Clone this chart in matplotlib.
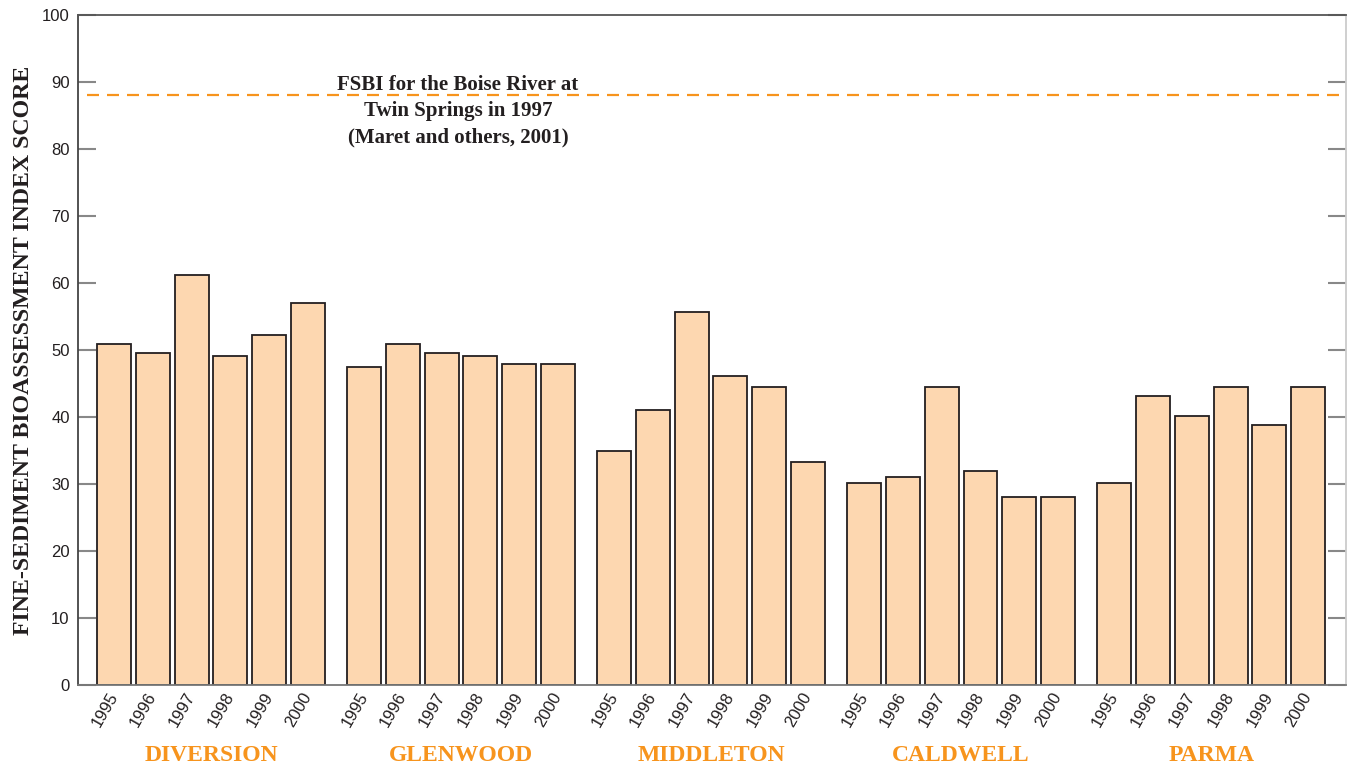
import matplotlib.pyplot as plt
import numpy as np

# datos
sitios = ['DIVERSION', 'GLENWOOD', 'MIDDLETON', 'CALDWELL', 'PARMA']
anios = ['1995', '1996', '1997', '1998', '1999', '2000']
diversion = [50.9, 49.6, 61.2, 49.1, 52.2, 57.0]
glenwood = [47.5, 50.9, 49.6, 49.1, 47.9, 47.9]
middleton = [34.9, 41.0, 55.7, 46.1, 44.5, 33.3]
caldwell = [30.1, 31.0, 44.5, 31.9, 28.1, 28.1]
parma = [30.1, 43.1, 40.1, 44.5, 38.8, 44.5]
fsbi_twin_springs = 88.0
nota = 'FSBI for the Boise River at\nTwin Springs in 1997\n(Maret and others, 2001)'

valores = [diversion, glenwood, middleton, caldwell, parma]

naranja = '#F7941D'
relleno = '#FDD7B0'
tinta = '#231F20'
num_font = ['Liberation Sans Narrow', 'Liberation Sans', 'DejaVu Sans']

fig = plt.figure(figsize=(13.47, 7.67), dpi=100)
ax = fig.add_axes([0.0579, 0.1069, 0.9414, 0.8735])

paso_grupo = 6.45
pos = []
etiquetas = []
for i, serie in enumerate(valores):
    x = i * paso_grupo + np.arange(len(anios))
    ax.bar(x, serie, width=0.876, color=relleno, edgecolor=tinta, linewidth=1.3)
    pos.extend(x)
    etiquetas.extend(anios)
    ax.text(x.mean(), -0.1045, sitios[i], transform=ax.get_xaxis_transform(),
            ha='center', va='center', color=naranja, fontsize=17,
            fontweight='bold', family='Liberation Serif')

ax.axhline(fsbi_twin_springs, xmin=0.007, xmax=0.995, color=naranja,
           linestyle=(0, (5.4, 3.6)), linewidth=1.6)
ax.text(0.2997, 85.65, nota, transform=ax.get_yaxis_transform(), ha='center',
        va='center', fontsize=15, fontweight='bold', family='Liberation Serif',
        color=tinta, linespacing=1.42)

ax.set_xlim(-0.93, 4 * paso_grupo + 5 + 0.98)
ax.set_ylim(0, 100)
ax.set_yticks(np.arange(0, 101, 10))
ax.set_xticks(pos)
ax.set_xticklabels(etiquetas, rotation=60, ha='right', va='center',
                   rotation_mode='anchor', family=num_font, fontsize=12,
                   color=tinta)
for t in ax.get_yticklabels():
    t.set_family(num_font)
    t.set_fontsize(12)
    t.set_color(tinta)

ax.tick_params(axis='x', length=0, pad=6)
ax.tick_params(axis='y', direction='in', length=13, width=1.5,
               color='#888888', right=True, pad=6)

ax.set_ylabel('FINE-SEDIMENT BIOASSESSMENT INDEX SCORE', fontsize=17.2,
              fontweight='bold', family='Liberation Serif', color=tinta)
ax.yaxis.set_label_coords(-0.035, 0.5)

ax.spines['left'].set_color('#444444')
ax.spines['top'].set_color('#555555')
ax.spines['bottom'].set_color('#777777')
ax.spines['right'].set_color('#cccccc')
for s in ax.spines.values():
    s.set_linewidth(1.3)

fig.savefig('out.png', dpi=100)
